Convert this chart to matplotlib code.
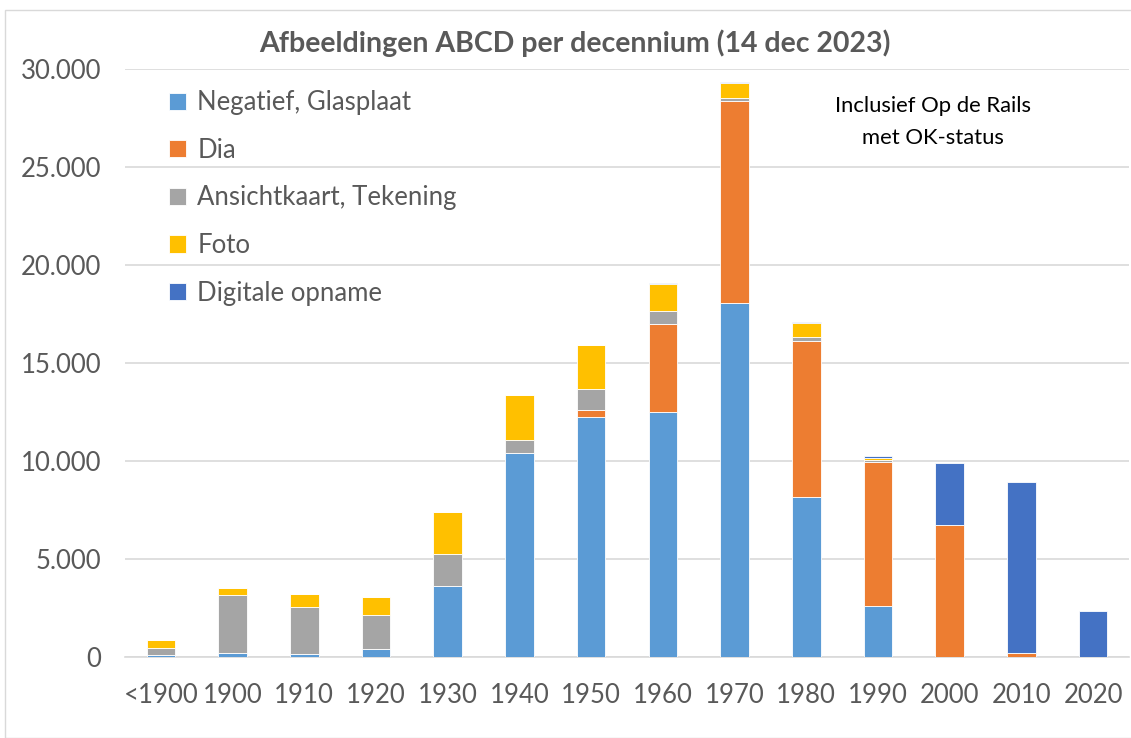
import matplotlib
matplotlib.use('Agg')
import matplotlib.pyplot as plt
from matplotlib.patches import Rectangle
import numpy as np

plt.rcParams['font.family'] = ['Lato', 'DejaVu Sans']

decades = ['<1900', '1900', '1910', '1920', '1930', '1940', '1950',
           '1960', '1970', '1980', '1990', '2000', '2010', '2020']

negatief = [100, 200, 150, 410, 3620, 10420, 12230, 12500, 18060, 8160, 2620, 0, 0, 0]
dia = [0, 0, 0, 0, 0, 0, 370, 4470, 10320, 7980, 7340, 6720, 200, 0]
ansicht = [370, 2980, 2420, 1710, 1640, 650, 1060, 680, 160, 170, 90, 0, 0, 0]
foto = [400, 340, 640, 940, 2160, 2280, 2240, 1400, 760, 720, 120, 0, 0, 0]
digitaal = [0, 0, 0, 0, 0, 0, 0, 50, 40, 50, 70, 3160, 8730, 2350]

series = [
    ('Negatief, Glasplaat', negatief, '#5B9BD5'),
    ('Dia', dia, '#ED7D31'),
    ('Ansichtkaart, Tekening', ansicht, '#A5A5A5'),
    ('Foto', foto, '#FFC000'),
    ('Digitale opname', digitaal, '#4472C4'),
]

grey = '#595959'
fig = plt.figure(figsize=(11.31, 7.38), dpi=100)
ax = fig.add_axes([125 / 1131, 1 - 657 / 738, 1004 / 1131, 588 / 738])

x = np.arange(len(decades))
bottom = np.zeros(len(decades))
for name, vals, col in series:
    ax.bar(x, vals, 0.4, bottom=bottom, color=col, label=name,
           edgecolor='white', linewidth=0.6, zorder=3)
    bottom += np.array(vals)

ax.set_ylim(0, 30000)
ax.set_xlim(-0.5, len(decades) - 0.5)
ax.set_yticks(range(0, 30001, 5000))
ax.set_yticklabels([f'{v:,}'.replace(',', '.') for v in range(0, 30001, 5000)])
ax.set_xticks(x)
ax.set_xticklabels(decades)
ax.tick_params(axis='both', length=0, labelsize=18.5, labelcolor=grey)
ax.tick_params(axis='y', pad=17)
ax.tick_params(axis='x', pad=19)
ax.grid(axis='y', color='#D9D9D9', linewidth=1.2, zorder=0)
for s in ['left', 'right', 'top']:
    ax.spines[s].set_visible(False)
ax.spines['bottom'].set_color('#D9D9D9')
ax.spines['bottom'].set_linewidth(1.2)

fig.text(575 / 1131, 1 - 43 / 738, 'Afbeeldingen ABCD per decennium (14 dec 2023)',
         ha='center', va='center', fontsize=20.5, fontweight='bold', color=grey)

ax.text(933 / 1131, 1 - 122 / 738, 'Inclusief Op de Rails\nmet OK-status',
        transform=fig.transFigure, ha='center', va='center', fontsize=15.8,
        color='black', linespacing=1.7)

leg = ax.legend(loc='upper left', bbox_to_anchor=(146 / 1131, 1 - 67 / 738),
                bbox_transform=fig.transFigure, frameon=False, fontsize=18.5,
                handlelength=0.65, handleheight=0.65, handletextpad=0.45,
                labelspacing=0.88)
for t in leg.get_texts():
    t.set_color(grey)

fig.patches.append(Rectangle((5 / 1131, 0), 1.2, 1 - 10 / 738,
                             transform=fig.transFigure, fill=False,
                             edgecolor='#D9D9D9', linewidth=1))

fig.savefig('out.png', dpi=100)
